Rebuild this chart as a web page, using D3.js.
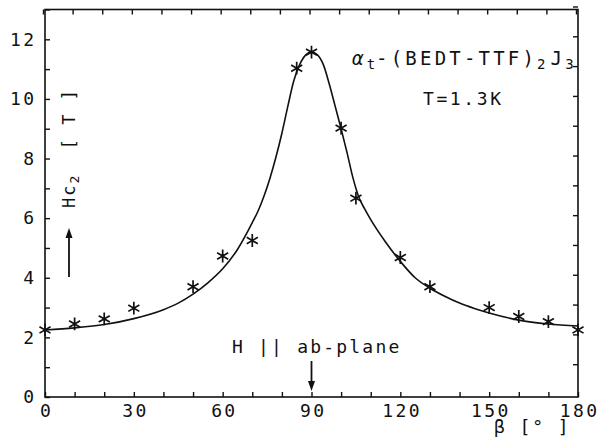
<!DOCTYPE html>
<html><head><meta charset="utf-8">
<script src="https://cdn.jsdelivr.net/npm/d3@7"></script>
<style>
body{margin:0;background:#fff}
text{font-family:"DejaVu Sans Mono",monospace;fill:#111;white-space:pre}
</style>
</head><body><svg id="c" width="613" height="442"></svg>
<script>
// measured points
const angles = [0,10,20,30,50,60,70,85,90,100,105,120,130,150,160,170,180];
const hc2 = [2.25,2.45,2.62,2.98,3.70,4.73,5.25,11.03,11.57,9.02,6.67,4.68,3.70,3.00,2.70,2.53,2.25];
// fitted curve
const fitAngles = [0,10,20,30,40,45,50,55,60,65,70,72,74,76,78,80,82,84,86,88,90,92,94,96,98,100,102,104,106,108,110,115,120,125,130,135,140,145,150,160,170,180];
const fitValues = [2.25,2.32,2.43,2.63,2.93,3.15,3.45,3.83,4.3,4.95,5.85,6.25,6.75,7.35,8.05,8.85,9.75,10.6,11.15,11.47,11.57,11.48,11.15,10.5,9.75,9.0,8.2,7.35,6.7,6.3,5.95,5.2,4.55,4.0,3.65,3.38,3.15,2.97,2.82,2.58,2.45,2.38];
const xTickLabels = [0,30,60,90,120,150,180];
const yTickLabels = [0,2,4,6,8,10,12];
const xMinorTicks = d3.range(0,181,10);
const yMinorTicks = d3.range(0,14,1);

const svg = d3.select("#c");
const x = d3.scaleLinear().domain([0,180]).range([45,578]);
const y = d3.scaleLinear().domain([0,13]).range([397,9.5]);

// frame
svg.append("rect").attr("x",x(0)).attr("y",y(13)).attr("width",x(180)-x(0)).attr("height",y(0)-y(13))
  .attr("fill","none").attr("stroke","#111").attr("stroke-width",1.6);

function styleAxis(g){ g.select(".domain").remove(); g.selectAll("line").attr("stroke","#111").attr("stroke-width",1.4); }

// bottom ticks (inward)
svg.append("g").attr("transform",`translate(0,${y(0)})`)
  .call(d3.axisBottom(x).tickValues(xMinorTicks).tickSizeInner(-5).tickSizeOuter(0).tickFormat(""))
  .call(styleAxis);
// top ticks
svg.append("g").attr("transform",`translate(-2,${y(13)})`)
  .call(d3.axisTop(x).tickValues(xMinorTicks).tickSizeInner(-5).tickSizeOuter(0).tickFormat(""))
  .call(styleAxis);
// left ticks
svg.append("g").attr("transform",`translate(${x(0)},0)`)
  .call(d3.axisLeft(y).tickValues(yMinorTicks).tickSizeInner(-5).tickSizeOuter(0).tickFormat(""))
  .call(styleAxis);
// right ticks
svg.append("g").attr("transform",`translate(${x(180)},-3)`)
  .call(d3.axisRight(y).tickValues(yMinorTicks.slice(1)).tickSizeInner(-5).tickSizeOuter(0).tickFormat(""))
  .call(styleAxis);

// x labels
const ls = 2.4;
const gx = svg.append("g").attr("transform",`translate(0,${y(0)})`)
  .call(d3.axisBottom(x).tickValues(xTickLabels).tickSize(0).tickPadding(7).tickFormat(d3.format("d")));
gx.select(".domain").remove();
gx.selectAll("text").attr("font-size",18).attr("letter-spacing",ls).attr("dx",ls/2)
  .style("font-family",'"DejaVu Sans Mono",monospace').attr("fill","#111");
// y labels
const gy = svg.append("g").attr("transform",`translate(${x(0)},0)`)
  .call(d3.axisLeft(y).tickValues(yTickLabels).tickSize(0).tickPadding(11).tickFormat(d3.format("d")));
gy.select(".domain").remove();
gy.selectAll("text").attr("font-size",18).attr("letter-spacing",ls).attr("dx",ls)
  .style("font-family",'"DejaVu Sans Mono",monospace').attr("fill","#111");

// fit curve
const line = d3.line().x((d,i)=>x(fitAngles[i])).y(d=>y(d)).curve(d3.curveMonotoneX);
svg.append("path").datum(fitValues).attr("d",line).attr("fill","none").attr("stroke","#111").attr("stroke-width",1.6);

// points
const sym = d3.symbol().type(d3.symbolAsterisk).size(115);
svg.append("g").selectAll("path").data(hc2).join("path")
  .attr("transform",(d,i)=>`translate(${x(angles[i])},${y(d)})`)
  .attr("d",sym).attr("fill","none").attr("stroke","#111").attr("stroke-width",1.7);

// title
const t = svg.append("text").attr("x",352).attr("y",65).attr("font-size",19).attr("letter-spacing",3.2);
t.append("tspan").text("α").style("font-style","italic");
t.append("tspan").attr("font-size",14).attr("dy",4).attr("letter-spacing",1).text("t");
t.append("tspan").attr("dy",-4).text("-(BEDT-TTF)");
t.append("tspan").attr("font-size",14).attr("dy",4).attr("letter-spacing",1).text("2");
t.append("tspan").attr("dy",-4).attr("dx",4).text("J");
t.append("tspan").attr("font-size",14).attr("dy",4).text("3");

svg.append("text").attr("x",423).attr("y",105).attr("font-size",18).attr("letter-spacing",2.6).text("T=1.3K");

// x axis title
svg.append("text").attr("x",494).attr("y",433).attr("font-size",18).attr("letter-spacing",1.9).text("β [° ]");

// y axis title
const yl = svg.append("text").attr("transform","translate(75,208) rotate(-90)").attr("font-size",17).attr("letter-spacing",2);
yl.append("tspan").text("Hc");
yl.append("tspan").attr("font-size",13).attr("dy",4).text("2");
yl.append("tspan").attr("dy",-4).text("  [ T ]");

// annotation
svg.append("text").attr("x",232).attr("y",353).attr("font-size",18).attr("letter-spacing",2.2).text("H || ab-plane");

// arrows
function arrow(x0,y0,x1,y1){
  svg.append("line").attr("x1",x0).attr("y1",y0).attr("x2",x1).attr("y2",y1-(y1>y0?7:-7)).attr("stroke","#111").attr("stroke-width",1.8);
  const dir = y1>y0?1:-1;
  svg.append("path").attr("d",d3.line()([[x1-3.5,y1-dir*10],[x1,y1],[x1+3.5,y1-dir*10]])+"Z").attr("fill","#111");
}
arrow(69,277,69,228);
arrow(x(90),361,x(90),391);
</script>
</body></html>
